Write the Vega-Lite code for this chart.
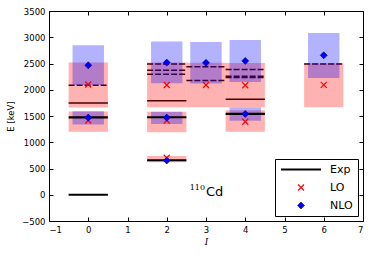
{
  "$schema": "https://vega.github.io/schema/vega-lite/v6.json",
  "width": 314,
  "height": 210,
  "autosize": {"type": "none"},
  "padding": {"left": 49, "top": 11, "right": 11, "bottom": 35},
  "background": "white",
  "config": {
    "view": {"stroke": "black", "strokeWidth": 1},
    "axis": {
      "grid": false,
      "domain": false,
      "labelFont": "DejaVu Sans",
      "labelFontSize": 8.5,
      "labelColor": "black",
      "tickColor": "black",
      "tickSize": -4,
      "labelPadding": 8,
      "titleFont": "DejaVu Sans",
      "titleFontSize": 8.5,
      "titleFontWeight": "normal",
      "titleColor": "black"
    }
  },
  "datasets": {
    "levels": [
      {"Ilo": -0.5, "Ihi": 0.5, "E": 0, "kind": "band"},
      {"Ilo": -0.5, "Ihi": 0.5, "E": 1473, "kind": "band"},
      {"Ilo": -0.5, "Ihi": 0.5, "E": 1750, "kind": "solid"},
      {"Ilo": -0.5, "Ihi": 0.5, "E": 2085, "kind": "dashed"},
      {"Ilo": 1.5, "Ihi": 2.5, "E": 657, "kind": "band"},
      {"Ilo": 1.5, "Ihi": 2.5, "E": 1476, "kind": "band"},
      {"Ilo": 1.5, "Ihi": 2.5, "E": 1790, "kind": "solid"},
      {"Ilo": 1.5, "Ihi": 2.5, "E": 2295, "kind": "dashed"},
      {"Ilo": 1.5, "Ihi": 2.5, "E": 2370, "kind": "dashed"},
      {"Ilo": 1.5, "Ihi": 2.5, "E": 2492, "kind": "dashed"},
      {"Ilo": 2.5, "Ihi": 3.5, "E": 2175, "kind": "dashed"},
      {"Ilo": 2.5, "Ihi": 3.5, "E": 2440, "kind": "dashed"},
      {"Ilo": 3.5, "Ihi": 4.5, "E": 1540, "kind": "band"},
      {"Ilo": 3.5, "Ihi": 4.5, "E": 1820, "kind": "solid"},
      {"Ilo": 3.5, "Ihi": 4.5, "E": 2232, "kind": "dashed"},
      {"Ilo": 3.5, "Ihi": 4.5, "E": 2256, "kind": "dashed"},
      {"Ilo": 3.5, "Ihi": 4.5, "E": 2386, "kind": "dashed"},
      {"Ilo": 5.5, "Ihi": 6.5, "E": 2492, "kind": "dashed"}
    ],
    "bands": [
      {"model": "LO", "Ilo": -0.5, "Ihi": 0.5, "Elo": 1660, "Ehi": 2520},
      {"model": "LO", "Ilo": -0.5, "Ihi": 0.5, "Elo": 1200, "Ehi": 1585},
      {"model": "LO", "Ilo": 1.5, "Ihi": 2.5, "Elo": 1665, "Ehi": 2517},
      {"model": "LO", "Ilo": 1.5, "Ihi": 2.5, "Elo": 1192, "Ehi": 1580},
      {"model": "LO", "Ilo": 1.5, "Ihi": 2.5, "Elo": 620, "Ehi": 740},
      {"model": "LO", "Ilo": 2.5, "Ihi": 3.5, "Elo": 1667, "Ehi": 2512},
      {"model": "LO", "Ilo": 3.5, "Ihi": 4.5, "Elo": 1667, "Ehi": 2511},
      {"model": "LO", "Ilo": 3.5, "Ihi": 4.5, "Elo": 1200, "Ehi": 1610},
      {"model": "LO", "Ilo": 5.5, "Ihi": 6.5, "Elo": 1667, "Ehi": 2504},
      {"model": "NLO", "Ilo": -0.4, "Ihi": 0.4, "Elo": 2090, "Ehi": 2846},
      {"model": "NLO", "Ilo": -0.4, "Ihi": 0.4, "Elo": 1340, "Ehi": 1590},
      {"model": "NLO", "Ilo": 1.6, "Ihi": 2.4, "Elo": 2125, "Ehi": 2920},
      {"model": "NLO", "Ilo": 1.6, "Ihi": 2.4, "Elo": 1350, "Ehi": 1580},
      {"model": "NLO", "Ilo": 2.6, "Ihi": 3.4, "Elo": 2120, "Ehi": 2910},
      {"model": "NLO", "Ilo": 3.6, "Ihi": 4.4, "Elo": 2150, "Ehi": 2950},
      {"model": "NLO", "Ilo": 3.6, "Ihi": 4.4, "Elo": 1410, "Ehi": 1665},
      {"model": "NLO", "Ilo": 5.6, "Ihi": 6.4, "Elo": 2226, "Ehi": 3081}
    ],
    "points": [
      {"series": "LO", "I": 0, "E": 2100},
      {"series": "LO", "I": 0, "E": 1415},
      {"series": "LO", "I": 2, "E": 2090},
      {"series": "LO", "I": 2, "E": 1414},
      {"series": "LO", "I": 2, "E": 705},
      {"series": "LO", "I": 3, "E": 2090},
      {"series": "LO", "I": 4, "E": 2085},
      {"series": "LO", "I": 4, "E": 1390},
      {"series": "LO", "I": 6, "E": 2093},
      {"series": "NLO", "I": 0, "E": 2466},
      {"series": "NLO", "I": 0, "E": 1470},
      {"series": "NLO", "I": 2, "E": 2517},
      {"series": "NLO", "I": 2, "E": 1470},
      {"series": "NLO", "I": 2, "E": 652},
      {"series": "NLO", "I": 3, "E": 2512},
      {"series": "NLO", "I": 4, "E": 2550},
      {"series": "NLO", "I": 4, "E": 1540},
      {"series": "NLO", "I": 6, "E": 2656}
    ]
  },
  "resolve": {"axis": {"x": "independent", "y": "independent"}},
  "layer": [
    {
      "data": {"name": "levels"},
      "transform": [{"filter": "datum.kind !== 'band'"}],
      "mark": {"type": "rule", "color": "black", "strokeWidth": 1.5},
      "encoding": {
        "x": {"field": "Ilo", "type": "quantitative",
              "scale": {"domain": [-1, 7], "nice": false, "zero": false},
              "axis": {"orient": "bottom", "values": [-1, 0, 1, 2, 3, 4, 5, 6, 7], "format": "d",
                       "title": "I", "titleFont": "DejaVu Serif", "titleFontStyle": "italic", "titleFontSize": 9, "titlePadding": 4}},
        "x2": {"field": "Ihi"},
        "y": {"field": "E", "type": "quantitative",
              "scale": {"domain": [-500, 3500], "nice": false, "zero": false},
              "axis": {"orient": "left", "values": [-500, 0, 500, 1000, 1500, 2000, 2500, 3000, 3500], "format": "d",
                       "title": "E [keV]", "titlePadding": 6}},
        "strokeDash": {"field": "kind", "type": "nominal",
                       "scale": {"domain": ["solid", "dashed"], "range": [[1, 0], [6, 2]]}, "legend": null}
      }
    },
    {
      "data": {"name": "bands"},
      "mark": {"type": "rect", "opacity": 0.3},
      "encoding": {
        "x": {"field": "Ilo", "type": "quantitative", "axis": null},
        "x2": {"field": "Ihi"},
        "y": {"field": "Elo", "type": "quantitative", "axis": null},
        "y2": {"field": "Ehi"},
        "color": {"field": "model", "type": "nominal",
                  "scale": {"domain": ["LO", "NLO"], "range": ["#ff0000", "#0000ff"]}, "legend": null}
      }
    },
    {
      "data": {"name": "levels"},
      "transform": [{"filter": "datum.kind === 'band'"}],
      "mark": {"type": "rule", "color": "black", "strokeWidth": 2.2},
      "encoding": {
        "x": {"field": "Ilo", "type": "quantitative", "axis": null},
        "x2": {"field": "Ihi"},
        "y": {"field": "E", "type": "quantitative", "axis": null}
      }
    },
    {
      "data": {"name": "points"},
      "mark": {"type": "point", "opacity": 1},
      "encoding": {
        "x": {"field": "I", "type": "quantitative",
              "axis": {"orient": "top", "labels": false, "title": null, "values": [-1, 0, 1, 2, 3, 4, 5, 6, 7]}},
        "y": {"field": "E", "type": "quantitative",
              "axis": {"orient": "right", "labels": false, "title": null, "values": [-500, 0, 500, 1000, 1500, 2000, 2500, 3000, 3500]}},
        "shape": {"field": "series", "type": "nominal",
                  "scale": {"domain": ["Exp", "LO", "NLO"], "range": ["stroke", "M-1,-1L1,1M-1,1L1,-1", "diamond"]},
                  "legend": {"title": null, "orient": "bottom-right", "offset": 5, "padding": 5,
                             "strokeColor": "black", "fillColor": "white", "cornerRadius": 0,
                             "labelFont": "DejaVu Sans", "labelFontSize": 11, "labelColor": "black",
                             "labelOffset": 8, "clipHeight": 11, "rowPadding": 6}},
        "fill": {"field": "series", "type": "nominal",
                 "scale": {"domain": ["Exp", "LO", "NLO"], "range": ["transparent", "transparent", "#0000ff"]}},
        "stroke": {"field": "series", "type": "nominal",
                   "scale": {"domain": ["Exp", "LO", "NLO"], "range": ["black", "#ff0000", "#000080"]}},
        "size": {"field": "series", "type": "nominal",
                 "scale": {"type": "ordinal", "domain": ["Exp", "LO", "NLO"], "range": [1600, 36, 49]}},
        "strokeWidth": {"field": "series", "type": "nominal",
                        "scale": {"type": "ordinal", "domain": ["Exp", "LO", "NLO"], "range": [2, 1.2, 0.6]}}
      }
    },
    {
      "data": {"values": [{"I": 3, "E": -30, "label": "Cd"}]},
      "mark": {"type": "text", "font": "DejaVu Sans", "fontSize": 13, "align": "left", "baseline": "alphabetic", "color": "black"},
      "encoding": {
        "x": {"field": "I", "type": "quantitative", "axis": null},
        "y": {"field": "E", "type": "quantitative", "axis": null},
        "text": {"field": "label"}
      }
    },
    {
      "data": {"values": [{"I": 3, "E": 84, "label": "110"}]},
      "mark": {"type": "text", "font": "DejaVu Serif", "fontSize": 8, "align": "right", "baseline": "alphabetic", "dx": -1, "color": "black"},
      "encoding": {
        "x": {"field": "I", "type": "quantitative", "axis": null},
        "y": {"field": "E", "type": "quantitative", "axis": null},
        "text": {"field": "label"}
      }
    }
  ]
}
